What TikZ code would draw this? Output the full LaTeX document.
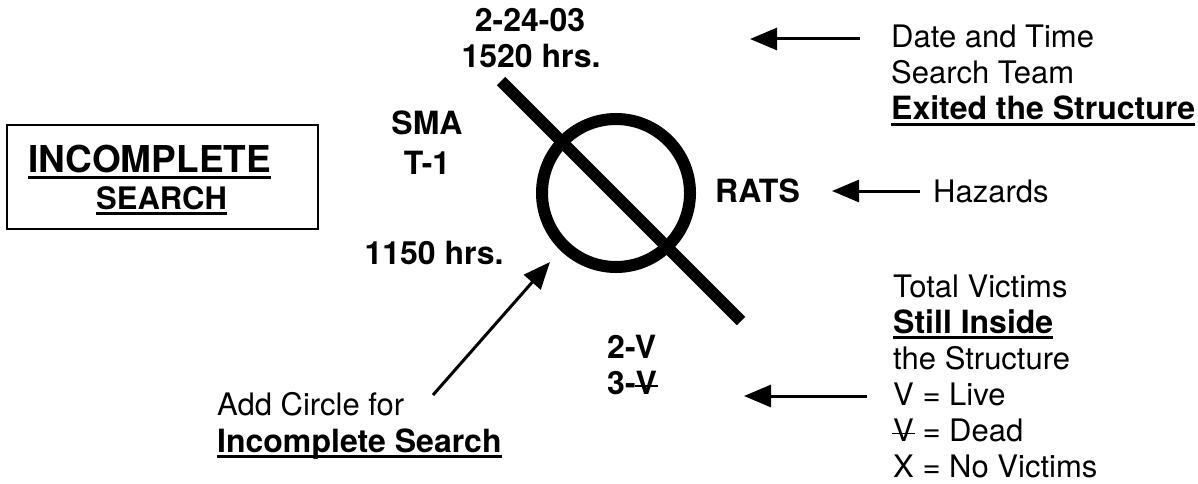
\documentclass[tikz,border=0pt]{standalone}
\usepackage{fontspec}
\setmainfont{TeX Gyre Heros}
\usetikzlibrary{arrows.meta}
\newcommand\undl[1]{\setbox0\hbox{#1}\rlap{\rule[-0.19em]{\wd0}{0.09em}}\box0}
\newcommand\deadV{\rlap{\hspace{-0.03em}\rule[0.22em]{0.72em}{0.05em}}V}
\tikzset{
  lbl/.style={anchor=base west, inner sep=0pt, font=\fontsize{31}{38}\selectfont},
  boldlbl/.style={lbl, font=\fontsize{32}{38}\selectfont\bfseries},
  pointer/.style={line width=3pt, -{Triangle[length=27pt,width=22pt]}},
}
\begin{document}
\begin{tikzpicture}[x=1pt, y=-1pt]
	\useasboundingbox (0,0) rectangle (1198,484);
	%marker
	\draw[line width=1.5pt] (7,125) rectangle (318,229);
	\node[lbl, font=\fontsize{37}{44}\selectfont\bfseries] (inc) at (28,172) {\undl{INCOMPLETE}};
	\node[boldlbl, font=\fontsize{31}{38}\selectfont\bfseries] (srch) at (96,209) {\undl{SEARCH}};
	\draw[line width=12pt] (616,193) circle (74);
	\draw[line width=12pt] (501,81) -- (741,321);
	%quadrants
	\node[boldlbl, anchor=base] (date) at (530,32) {2-24-03};
	\node[boldlbl, anchor=base] (exit) at (531,68) {1520 hrs.};
	\node[boldlbl, anchor=base] (team) at (427,135) {SMA};
	\node[boldlbl, anchor=base] (task) at (427,174) {T-1};
	\node[boldlbl, anchor=base] (entry) at (434,264) {1150 hrs.};
	\node[boldlbl] (haz) at (715,202) {RATS};
	\node[boldlbl] (live) at (607,358) {2-V};
	\node[boldlbl] (dead) at (607,394) {3-\deadV};
	%legend
	\node[lbl] (l1) at (891,48) {Date and Time};
	\node[lbl] (l2) at (891,84) {Search Team};
	\node[boldlbl] (l3) at (891,120) {\undl{Exited the Structure}};
	\node[lbl] (l4) at (933,202) {Hazards};
	\node[lbl] (l5) at (893,297) {Total Victims};
	\node[boldlbl] (l6) at (893,333) {\undl{Still Inside}};
	\node[lbl] (l7) at (893,369) {the Structure};
	\node[lbl] (l8) at (893,405) {V = Live};
	\node[lbl] (l9) at (893,441) {\deadV{} = Dead};
	\node[lbl] (l10) at (893,477) {X = No Victims};
	\node[lbl] (c1) at (217,415) {Add Circle for};
	\node[boldlbl] (c2) at (217,452) {\undl{Incomplete Search}};
	%arrows
	\coordinate (a1) at (860,39);  \coordinate (b1) at (750,39);
	\coordinate (a2) at (920,191); \coordinate (b2) at (832,191);
	\coordinate (a3) at (867,396); \coordinate (b3) at (744,396);
	\coordinate (a4) at (433,395); \coordinate (b4) at (550,262);
	\draw[pointer] (a1) -- (b1);
	\draw[pointer] (a2) -- (b2);
	\draw[pointer] (a3) -- (b3);
	\draw[pointer] (a4) -- (b4);
\end{tikzpicture}
\end{document}
